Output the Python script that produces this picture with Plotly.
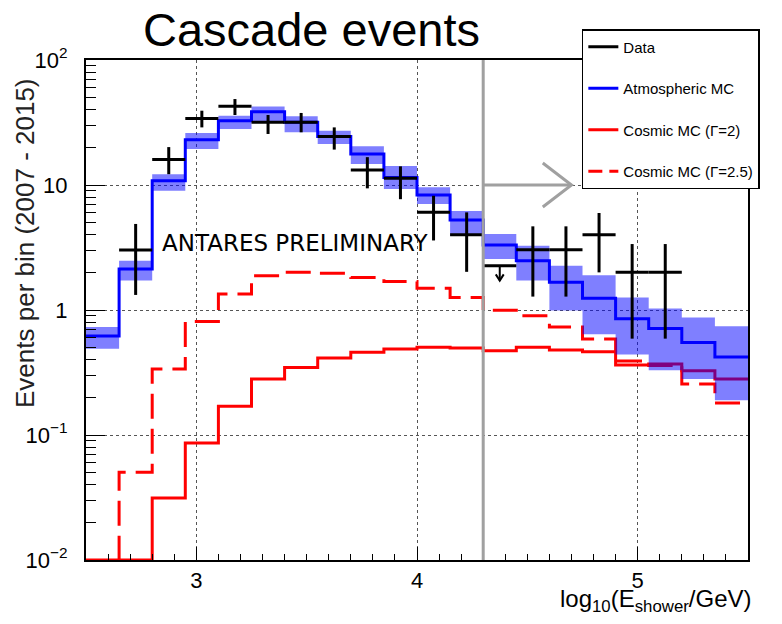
import plotly.graph_objects as go

# ---------------- data ----------------
bin_edges = [2.5, 2.65, 2.8, 2.95, 3.1, 3.25, 3.4, 3.55, 3.7, 3.85, 4.0,
             4.15, 4.3, 4.45, 4.6, 4.75, 4.9, 5.05, 5.2, 5.35, 5.5]

atmo_mc = [0.62, 2.13, 10.8, 23.0, 32.7, 38.6, 31.7, 24.4, 17.7, 11.5,
           8.3, 5.25, 3.31, 2.48, 1.67, 1.24, 0.85, 0.71, 0.55, 0.42]
atmo_lo = [0.49, 1.72, 9.0, 19.4, 28.0, 31.7, 26.4, 21.3, 14.7, 9.3,
           7.05, 3.9, 2.56, 1.72, 0.99, 0.64, 0.44, 0.33, 0.28, 0.19]
atmo_hi = [0.73, 2.48, 12.2, 26.1, 35.8, 42.5, 35.5, 27.2, 20.4, 14.2,
           9.6, 6.2, 4.06, 3.27, 2.26, 1.9, 1.26, 1.03, 0.87, 0.74]

cosmic_g2 = [0.01, 0.01, 0.0313, 0.0863, 0.17, 0.28, 0.346, 0.413, 0.459, 0.488,
             0.503, 0.497, 0.473, 0.503, 0.478, 0.464, 0.363, 0.37, 0.327, 0.28]
cosmic_g25 = [0.005, 0.0503, 0.337, 0.81, 1.34, 1.88, 2.0, 1.97, 1.82, 1.69,
              1.49, 1.26, 0.995, 0.9, 0.73, 0.586, 0.39, 0.36, 0.256, 0.18]

data_x = [2.725, 2.875, 3.025, 3.175, 3.325, 3.475, 3.625, 3.775, 3.925,
          4.075, 4.225, 4.525, 4.675, 4.825, 4.975, 5.125]
data_y = [3.02, 16.0, 34.0, 42.6, 31.7, 31.7, 24.4, 13.2, 11.3,
          6.04, 4.0, 3.04, 3.04, 4.0, 2.0, 2.0]
data_hi = [4.88, 20.1, 39.3, 48.7, 36.3, 37.7, 28.9, 16.7, 14.1,
           8.2, 6.04, 4.67, 4.67, 5.97, 3.37, 3.37]
data_lo = [1.32, 12.2, 28.9, 36.3, 25.6, 26.4, 19.2, 9.4, 7.7,
           3.6, 2.02, 1.28, 1.28, 2.0, 0.59, 0.59]

ul_x = [4.375]        # upper-limit bin centre
ul_y = [2.26]         # upper-limit value
ul_tip = [1.72]       # arrow tip

half_bin = 0.075
energy_cut = 4.3
arrow_end = 4.7
arrow_level = 10.0

ytick_vals = [0.01, 0.1, 1, 10, 100]
ytick_text = ["10<sup>\u22122</sup>", "10<sup>\u22121</sup>", "1", "10", "10<sup>2</sup>"]
xtick_vals = [3, 4, 5]
xtick_text = ["3", "4", "5"]

# ---------------- figure ----------------
def step(vals):
    return list(vals) + [vals[-1]]

fig = go.Figure()

RED = "#ff0000"
BLUE = "#0000ff"

fig.add_trace(go.Scatter(x=bin_edges, y=step(cosmic_g2), mode="lines", line_shape="hv",
                         line=dict(color=RED, width=3), showlegend=False, hoverinfo="skip"))
fig.add_trace(go.Scatter(x=bin_edges, y=step(cosmic_g25), mode="lines", line_shape="hv",
                         line=dict(color=RED, width=3, dash="25px,10px"), showlegend=False,
                         hoverinfo="skip"))
# band
fig.add_trace(go.Scatter(x=bin_edges, y=step(atmo_lo), mode="lines", line_shape="hv",
                         line=dict(width=0, color="rgba(0,0,0,0)"), showlegend=False,
                         hoverinfo="skip"))
fig.add_trace(go.Scatter(x=bin_edges, y=step(atmo_hi), mode="lines", line_shape="hv",
                         line=dict(width=0, color="rgba(0,0,0,0)"), fill="tonexty",
                         fillcolor="rgba(0,0,255,0.5)", showlegend=False, hoverinfo="skip"))
fig.add_trace(go.Scatter(x=bin_edges, y=step(atmo_mc), mode="lines", line_shape="hv",
                         line=dict(color=BLUE, width=3), showlegend=False, hoverinfo="skip"))

# data crosses
fig.add_trace(go.Scatter(
    x=data_x, y=data_y, mode="markers", marker=dict(size=1, color="black"),
    error_x=dict(type="constant", value=half_bin, width=0, thickness=3, color="black"),
    error_y=dict(type="data", symmetric=False,
                 array=[h - v for h, v in zip(data_hi, data_y)],
                 arrayminus=[v - l for v, l in zip(data_y, data_lo)],
                 width=0, thickness=3, color="black"),
    showlegend=False, hoverinfo="skip"))

# upper limit
fig.add_trace(go.Scatter(
    x=ul_x, y=ul_y, mode="markers", marker=dict(size=1, color="black"),
    error_x=dict(type="constant", value=half_bin, width=0, thickness=3, color="black"),
    error_y=dict(type="data", symmetric=False, array=[0],
                 arrayminus=[ul_y[0] - ul_tip[0]], width=0, thickness=2, color="black"),
    showlegend=False, hoverinfo="skip"))
fig.add_trace(go.Scatter(
    x=[ul_x[0] - 0.018, ul_x[0], ul_x[0] + 0.018],
    y=[ul_tip[0] * 1.12, ul_tip[0], ul_tip[0] * 1.12],
    mode="lines", line=dict(color="black", width=2), showlegend=False, hoverinfo="skip"))

# energy cut line and arrow
fig.add_shape(type="line", xref="x", yref="paper", x0=energy_cut, x1=energy_cut, y0=0, y1=1,
              line=dict(color="#a0a0a0", width=3))
fig.add_trace(go.Scatter(x=[energy_cut, arrow_end], y=[arrow_level, arrow_level], mode="lines",
                         line=dict(color="#a0a0a0", width=3), showlegend=False, hoverinfo="skip"))
fig.add_trace(go.Scatter(x=[arrow_end - 0.13, arrow_end, arrow_end - 0.13],
                         y=[arrow_level * 1.5, arrow_level, arrow_level / 1.5], mode="lines",
                         line=dict(color="#a0a0a0", width=3), showlegend=False, hoverinfo="skip"))

# legend entries
legend_items = [("Data", "black", "solid"), ("Atmospheric MC", BLUE, "solid"),
                ("Cosmic MC (\u0393=2)", RED, "solid"), ("Cosmic MC (\u0393=2.5)", RED, "14px,7px")]
for i, (name, col, dash) in enumerate(legend_items):
    fig.add_trace(go.Scatter(x=[None], y=[None], mode="lines", name=name,
                             line=dict(color=col, width=3, dash=dash), legendgroup=str(i)))

fig.update_layout(
    width=782, height=624,
    margin=dict(l=86, r=34, t=60, b=64, autoexpand=False),
    paper_bgcolor="white", plot_bgcolor="white",
    font=dict(family="Liberation Sans, Arial, sans-serif", color="black"),
    legend=dict(x=0.749, y=1.062, xanchor="left", yanchor="top",
                bgcolor="white", bordercolor="black", borderwidth=1.5,
                font=dict(size=15, family="Liberation Sans, Arial, sans-serif"),
                tracegroupgap=19, entrywidth=180),
    xaxis=dict(range=[2.5, 5.5], tickvals=xtick_vals, ticktext=xtick_text,
               ticks="inside", ticklen=13, tickwidth=1, tickcolor="black",
               minor=dict(dtick=0.1, ticks="inside", ticklen=6, tickcolor="black", showgrid=False),
               showgrid=True, gridcolor="#555555", griddash="dot", gridwidth=1,
               showline=True, linecolor="black", linewidth=2, mirror=True,
               tickfont=dict(size=22), zeroline=False),
    yaxis=dict(type="log", range=[-2, 2], tickvals=ytick_vals, ticktext=ytick_text,
               ticks="inside", ticklen=19, tickwidth=1, tickcolor="black",
               minor=dict(dtick="D1", ticks="inside", ticklen=10, tickcolor="black", showgrid=False),
               showgrid=True, gridcolor="#555555", griddash="dot", gridwidth=1,
               showline=True, linecolor="black", linewidth=2, mirror=True,
               tickfont=dict(size=22), ticklabelstandoff=12, zeroline=False),
    annotations=[
        dict(text="Cascade events", xref="paper", yref="paper",
             x=(311 - 86) / 662, y=(560 - 30) / 500, xanchor="center", yanchor="middle",
             showarrow=False, font=dict(size=47)),
        dict(text="Events per bin (2007 - 2015)", xref="paper", yref="paper",
             x=(25 - 86) / 662, y=(560 - 243) / 500, xanchor="center", yanchor="middle",
             textangle=-90, showarrow=False, font=dict(size=26, color="#222222")),
        dict(text="log<sub>10</sub>(E<sub>shower</sub>/GeV)", xref="paper", yref="paper",
             x=(656 - 86) / 662, y=(560 - 600) / 500, xanchor="center", yanchor="middle",
             showarrow=False, font=dict(size=24)),
        dict(text="ANTARES PRELIMINARY", xref="paper", yref="paper",
             x=(295 - 86) / 662, y=(560 - 243) / 500, xanchor="center", yanchor="middle",
             showarrow=False, font=dict(size=23, family="DejaVu Sans")),
    ],
)

fig.write_html("out.html")
